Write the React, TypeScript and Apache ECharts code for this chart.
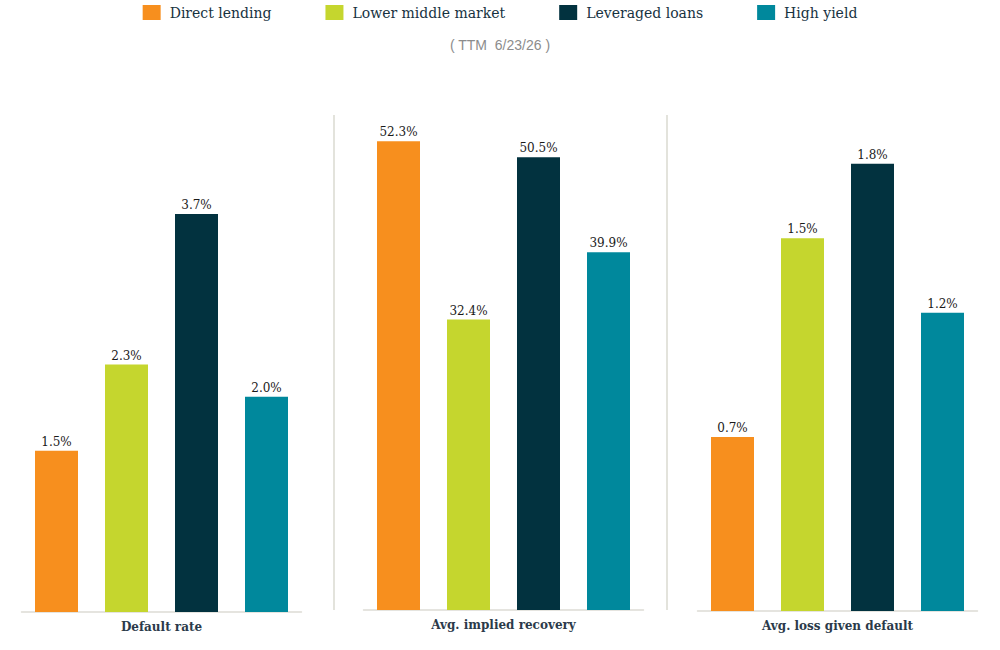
import React, { useEffect, useRef } from "react";
import * as echarts from "echarts";

const categories = ["Direct lending", "Lower middle market", "Leveraged loans", "High yield"];
const colors = ["#F78F1E", "#C5D62E", "#02323F", "#00889C"];
const panelTitles = ["Default rate", "Avg. implied recovery", "Avg. loss given default"];
const defaultRate = [1.5, 2.3, 3.7, 2.0];
const impliedRecovery = [52.3, 32.4, 50.5, 39.9];
const lossGivenDefault = [0.7, 1.5, 1.8, 1.2];
const subtitle = "( TTM  6/23/26 )";

const panelValues = [defaultRate, impliedRecovery, lossGivenDefault];
const panelMax = [4.76, 56.9, 2.056];
const gridLefts = [21.5, 363.5, 697.5];
const gridBottoms = [38, 40, 39];

export default function App() {
  const ref = useRef<HTMLDivElement>(null);
  useEffect(() => {
    if (!ref.current) return;
    const chart = echarts.init(ref.current, null, { renderer: "svg" });
    const serif = "DejaVu Serif";
    const series: any[] = [];
    panelValues.forEach((vals, p) => {
      categories.forEach((name, i) => {
        series.push({
          type: "bar",
          name,
          xAxisIndex: p,
          yAxisIndex: p,
          stack: "p" + p,
          barWidth: 43,
          itemStyle: { color: colors[i] },
          label: {
            show: true,
            position: "top",
            distance: 3,
            fontFamily: serif,
            fontSize: 12,
            color: "#1a1a1a",
            formatter: (v: any) => Number(v.value).toFixed(1) + "%",
          },
          data: categories.map((_, j) => (j === i ? vals[i] : "-")),
        });
      });
    });
    chart.setOption({
      animation: false,
      backgroundColor: "#ffffff",
      title: {
        text: subtitle,
        left: "center",
        top: 33,
        textStyle: {
          fontFamily: "Liberation Sans",
          fontSize: 14,
          fontWeight: "normal",
          color: "#8c8c8c",
        },
      },
      legend: {
        data: categories,
        top: 0,
        left: "center",
        icon: "rect",
        itemWidth: 18,
        itemHeight: 15,
        itemGap: 54,
        textStyle: {
          fontFamily: serif,
          fontSize: 14,
          color: "#17323f",
          padding: [0, 0, 0, 4],
        },
      },
      grid: gridLefts.map((l, p) => ({
        left: l,
        width: 280,
        top: 100,
        bottom: gridBottoms[p],
      })),
      xAxis: panelTitles.map((t, p) => ({
        type: "category",
        gridIndex: p,
        data: categories,
        name: t,
        nameLocation: "middle",
        nameGap: 9,
        nameTextStyle: {
          fontFamily: serif,
          fontSize: 12,
          fontWeight: "bold",
          color: "#2b3a4a",
        },
        axisLine: { show: true, lineStyle: { color: "#dddcd5", width: 1.5 } },
        axisTick: { show: false },
        axisLabel: { show: false },
      })),
      yAxis: panelMax.map((m, p) => ({
        type: "value",
        gridIndex: p,
        min: 0,
        max: m,
        show: false,
        splitLine: { show: false },
      })),
      graphic: [
        {
          type: "line",
          shape: { x1: 334, y1: 115, x2: 334, y2: 610 },
          style: { stroke: "#e3e3dc", lineWidth: 2 },
        },
        {
          type: "line",
          shape: { x1: 667, y1: 115, x2: 667, y2: 610 },
          style: { stroke: "#e3e3dc", lineWidth: 2 },
        },
      ],
      series,
    });
    return () => chart.dispose();
  }, []);
  return (
    <div
      ref={ref}
      style={{ position: "absolute", left: 0, top: 0, width: 1000, height: 650 }}
    />
  );
}
